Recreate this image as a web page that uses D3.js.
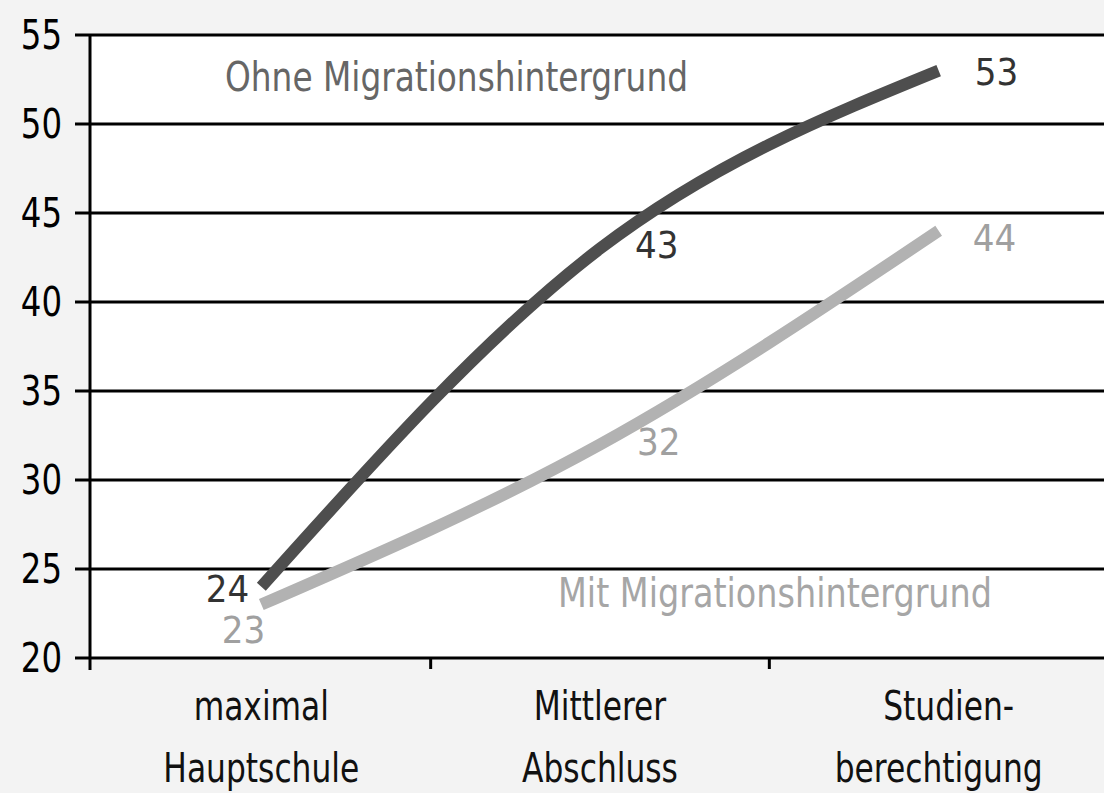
<!DOCTYPE html>
<html>
<head>
<meta charset="utf-8">
<script src="https://cdn.jsdelivr.net/npm/d3@7"></script>
<style>
  html, body { margin: 0; padding: 0; background: #f3f3f3; }
  svg { display: block; }
  text { font-family: "Liberation Sans Narrow", "DejaVu Sans Condensed", "Liberation Sans", sans-serif; }
</style>
</head>
<body>
<script>
// ---- data ----
const categories = ["maximal Hauptschule", "Mittlerer Abschluss", "Studienberechtigung"];
const categoryLines = [["maximal", "Hauptschule"], ["Mittlerer", "Abschluss"], ["Studien-", "berechtigung"]];
const seriesNames = ["Ohne Migrationshintergrund", "Mit Migrationshintergrund"];
const ohneValues = [24, 43, 53];
const mitValues = [23, 32, 44];
const yTicks = [20, 25, 30, 35, 40, 45, 50, 55];

// ---- layout ----
const W = 1104, H = 793;
const plot = { left: 90, right: 1108, top: 35, bottom: 658 };

const svg = d3.select("body").append("svg").attr("width", W).attr("height", H);

const x = d3.scaleBand().domain(categories).range([plot.left + 2, plot.right]);
const y = d3.scaleLinear().domain([20, 55]).range([plot.bottom, plot.top]);
const cx = c => x(c) + x.bandwidth() / 2;

// condense a text horizontally by factor k
function condense(sel, k) {
  sel.each(function () {
    const len = this.getComputedTextLength();
    d3.select(this).attr("textLength", len * k).attr("lengthAdjust", "spacingAndGlyphs");
  });
}

// plot background
svg.append("rect").attr("x", plot.left).attr("y", plot.top)
  .attr("width", W - plot.left).attr("height", plot.bottom - plot.top).attr("fill", "#fff");

// horizontal grid lines (incl. baseline)
svg.append("g").selectAll("line").data(yTicks).join("line")
  .attr("x1", 75).attr("x2", W)
  .attr("y1", d => y(d)).attr("y2", d => y(d))
  .attr("stroke", "#000").attr("stroke-width", 3);

// y axis line
svg.append("line").attr("x1", plot.left).attr("x2", plot.left)
  .attr("y1", plot.top).attr("y2", plot.bottom + 12)
  .attr("stroke", "#000").attr("stroke-width", 3);

// y tick labels
svg.append("g").selectAll("text").data(yTicks).join("text")
  .attr("x", 62).attr("y", d => y(d)).attr("dy", "0.36em")
  .attr("text-anchor", "end").attr("font-size", 40).attr("fill", "#000")
  .text(d => d).call(condense, 0.9);

// x ticks at band boundaries
const boundaries = categories.slice(1).map(c => x(c));
svg.append("g").selectAll("line").data(boundaries).join("line")
  .attr("x1", d => d).attr("x2", d => d)
  .attr("y1", plot.bottom).attr("y2", plot.bottom + 11)
  .attr("stroke", "#000").attr("stroke-width", 3);

// x labels
categories.forEach((c, i) => {
  [0, 1].forEach(j => {
    svg.append("text").attr("text-anchor", "middle").attr("font-size", 40).attr("fill", "#111")
      .attr("x", cx(c) + (i === 2 && j === 0 ? 10 : 0)).attr("y", j === 0 ? 720 : 782)
      .text(categoryLines[i][j]).call(condense, 0.87);
  });
});

// lines
const line = d3.line().x(d => cx(d.c)).y(d => y(d.v)).curve(d3.curveMonotoneX);
const ohne = categories.map((c, i) => ({ c, v: ohneValues[i] }));
const mit = categories.map((c, i) => ({ c, v: mitValues[i] }));

svg.append("path").datum(mit).attr("d", line)
  .attr("fill", "none").attr("stroke", "#b2b2b2").attr("stroke-width", 12);
svg.append("path").datum(ohne).attr("d", line)
  .attr("fill", "none").attr("stroke", "#4e4e4e").attr("stroke-width", 12);

// value labels
const darkOff = [[-12, 15, "end"], [35, 9, "start"], [36, 14, "start"]];
const lightOff = [[4, 38, "end"], [37, 11, "start"], [34, 20, "start"]];
svg.append("g").selectAll("text").data(ohne).join("text")
  .attr("x", (d, i) => cx(d.c) + darkOff[i][0]).attr("y", (d, i) => y(d.v) + darkOff[i][1])
  .attr("text-anchor", (d, i) => darkOff[i][2])
  .attr("font-size", 38).attr("fill", "#333").text(d => d.v);
svg.append("g").selectAll("text").data(mit).join("text")
  .attr("x", (d, i) => cx(d.c) + lightOff[i][0]).attr("y", (d, i) => y(d.v) + lightOff[i][1])
  .attr("text-anchor", (d, i) => lightOff[i][2])
  .attr("font-size", 38).attr("fill", "#a0a0a0").text(d => d.v);

// series labels
svg.append("text").attr("x", 225).attr("y", 91).attr("font-size", 40).attr("fill", "#666")
  .attr("textLength", 463).attr("lengthAdjust", "spacingAndGlyphs").text(seriesNames[0]);
svg.append("text").attr("x", 558).attr("y", 607).attr("font-size", 40).attr("fill", "#a6a6a6")
  .attr("textLength", 434).attr("lengthAdjust", "spacingAndGlyphs").text(seriesNames[1]);
</script>
</body>
</html>
